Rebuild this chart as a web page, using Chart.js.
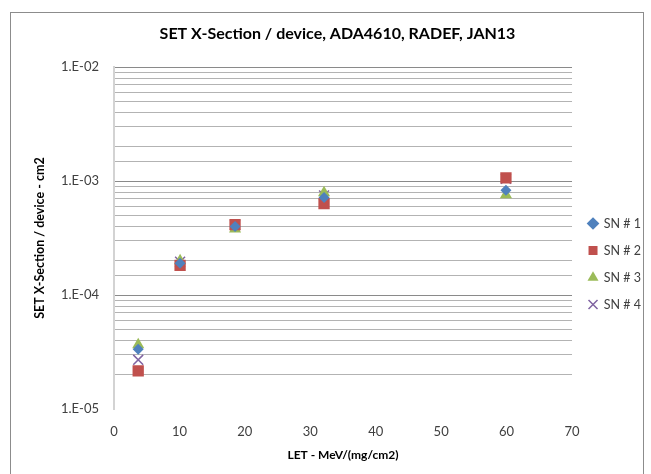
<!DOCTYPE html>
<html>
<head>
<meta charset="utf-8">
<script src="https://cdn.jsdelivr.net/npm/chart.js@4.4.1/dist/chart.umd.min.js"></script>
<style>
  html, body { margin: 0; padding: 0; background: #ffffff; }
  #wrap { position: relative; width: 651px; height: 474px; overflow: hidden; }
  #frame { position: absolute; left: 10px; top: 12px; width: 634px; height: 480px;
           border: 1px solid #8c8c8c; box-sizing: border-box; pointer-events: none; }
  canvas { position: absolute; left: 0; top: 0; }
</style>
</head>
<body>
<div id="wrap">
  <canvas id="c" width="651" height="474"></canvas>
  <div id="frame"></div>
</div>
<script>
// LET values of the ion beams, MeV/(mg/cm2)
const letValues = [3.7, 10.1, 18.5, 32.1, 59.9];

// SET cross-section per device, cm2, one array per sample
const sn1 = [3.35e-5, 1.90e-4, 4.00e-4, 7.20e-4, 8.30e-4];
const sn2 = [2.16e-5, 1.82e-4, 4.15e-4, 6.35e-4, 1.07e-3];
const sn3 = [3.66e-5, 2.00e-4, 3.80e-4, 7.90e-4, 7.60e-4];
const sn4 = [2.70e-5, 1.96e-4, 4.10e-4, 7.50e-4, 1.05e-3];

const seriesNames = ['SN # 1', 'SN # 2', 'SN # 3', 'SN # 4'];
const xTicks = [0, 10, 20, 30, 40, 50, 60, 70];
const yMajorTicks = [1e-5, 1e-4, 1e-3, 1e-2];

const FONT = "Lato, 'Open Sans', sans-serif";

function toPoints(ys) {
  return letValues.map((x, i) => ({ x: x, y: ys[i] }));
}

function isDecade(v) {
  const l = Math.log10(v);
  return Math.abs(l - Math.round(l)) < 1e-6;
}

function sciLabel(v) {
  const e = Math.round(Math.log10(v));
  const s = Math.abs(e) < 10 ? '0' + Math.abs(e) : String(Math.abs(e));
  return '1.E' + (e < 0 ? '-' : '+') + s;
}

const styles = [
  { pointStyle: 'rectRot',  color: '#4F81BD', radius: 5.5 },
  { pointStyle: 'rect',     color: '#C0504D', radius: 8 },
  { pointStyle: 'triangle', color: '#9BBB59', radius: 7 },
  { pointStyle: 'crossRot', color: '#8064A2', radius: 7 }
];

const allSeries = [sn1, sn2, sn3, sn4];

const datasets = allSeries.map((ys, i) => ({
  label: seriesNames[i],
  data: toPoints(ys),
  showLine: false,
  pointStyle: styles[i].pointStyle,
  pointRadius: styles[i].radius,
  pointHoverRadius: styles[i].radius,
  backgroundColor: styles[i].color,
  borderColor: styles[i].color,
  pointBorderWidth: styles[i].pointStyle === 'crossRot' ? 1.5 : 0
}));

// Nudge the legend down and the title right from their default centred spots
const blockOffsets = {
  id: 'blockOffsets',
  afterLayout(chart) {
    const l = chart.legend;
    if (l) {
      l.top += 27; l.bottom += 27;
      l.left += 2; l.right += 2;
    }
    const t = chart.titleBlock;
    if (t) {
      t.left += 13; t.right += 13;
    }
  }
};

new Chart(document.getElementById('c'), {
  type: 'scatter',
  data: { datasets: datasets },
  plugins: [blockOffsets],
  options: {
    responsive: false,
    animation: false,
    events: [],
    layout: { padding: { left: 0, right: 2, top: 0, bottom: 0 } },
    plugins: {
      tooltip: { enabled: false },
      title: {
        display: true,
        text: 'SET X-Section / device, ADA4610, RADEF, JAN13',
        color: '#000000',
        font: { family: FONT, size: 16, weight: 'bold' },
        padding: { top: 24, bottom: 24 }
      },
      legend: {
        position: 'right',
        align: 'center',
        labels: {
          usePointStyle: true,
          color: '#404040',
          font: { family: FONT, size: 12.5 },
          padding: 14.5,
          boxWidth: 9,
          boxHeight: 9
        }
      }
    },
    scales: {
      x: {
        type: 'linear',
        min: 0,
        max: 70,
        afterBuildTicks: (s) => { s.ticks = xTicks.map(v => ({ value: v })); },
        afterFit: (s) => { s.height = 65; },
        grid: { display: false, drawTicks: false },
        border: { display: false },
        ticks: {
          color: '#404040',
          font: { family: FONT, size: 13 },
          padding: 15,
          maxRotation: 0
        },
        title: {
          display: true,
          text: 'LET - MeV/(mg/cm2)',
          color: '#000000',
          font: { family: FONT, size: 12, weight: 'bold' },
          padding: { top: 6, bottom: 12 }
        }
      },
      y: {
        type: 'logarithmic',
        min: 1e-5,
        max: 1e-2,
        afterFit: (s) => { s.width = 114; },
        grid: {
          drawTicks: false,
          color: (ctx) => {
            const v = ctx.tick && ctx.tick.value;
            if (v === 1e-5) return 'rgba(0,0,0,0)';
            return isDecade(v) ? '#8a8a8a' : '#b3b3b3';
          },
          lineWidth: 1
        },
        border: { display: true, color: '#d3d3d3', width: 2 },
        ticks: {
          autoSkip: false,
          color: '#404040',
          font: { family: FONT, size: 13 },
          padding: 15,
          callback: (v) => (yMajorTicks.some(t => Math.abs(t - v) / t < 1e-6) ? sciLabel(v) : '')
        },
        title: {
          display: true,
          text: 'SET X-Section / device - cm2',
          color: '#000000',
          font: { family: FONT, size: 12.5, weight: 'bold' },
          padding: { top: 32, bottom: 0 }
        }
      }
    }
  }
});
</script>
</body>
</html>
